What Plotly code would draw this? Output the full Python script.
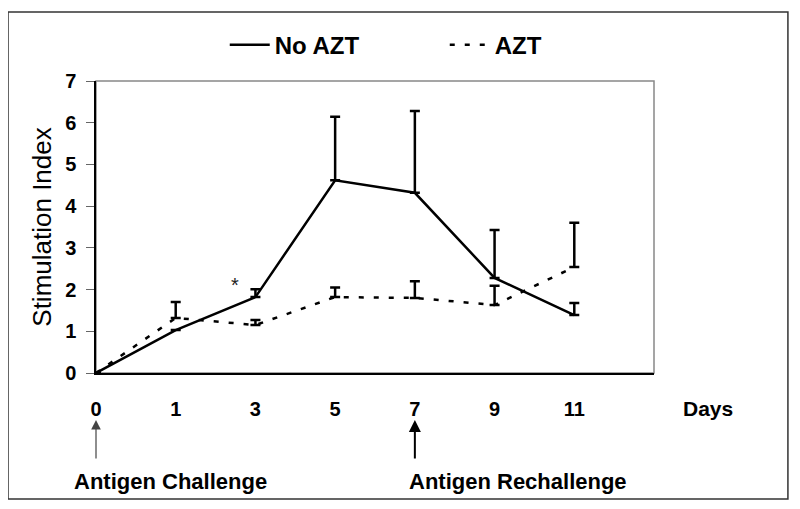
import plotly.graph_objects as go

days = ["0", "1", "3", "5", "7", "9", "11"]
no_azt = [0, 1.03, 1.82, 4.62, 4.32, 2.28, 1.39]
no_azt_err = [0, 0, 0.19, 1.52, 1.96, 1.15, 0.29]
azt = [0, 1.32, 1.15, 1.82, 1.8, 1.63, 2.54]
azt_err = [0, 0.38, 0.12, 0.23, 0.4, 0.46, 1.06]

FONT = "Liberation Sans, Arial, sans-serif"

fig = go.Figure()
fig.add_trace(go.Scatter(
    x=days, y=no_azt, name="No AZT", mode="lines",
    line=dict(color="black", width=2.5),
    error_y=dict(type="data", array=no_azt_err, arrayminus=[0]*7, symmetric=False,
                 color="black", thickness=2.5, width=5),
))
fig.add_trace(go.Scatter(
    x=days, y=azt, name="AZT", mode="lines",
    line=dict(color="black", width=2.5, dash="5px,10px"),
    error_y=dict(type="data", array=azt_err, arrayminus=[0]*7, symmetric=False,
                 color="black", thickness=2.5, width=5),
))

# plot area box (gray) and outer frame
fig.add_shape(type="rect", xref="paper", yref="paper", x0=0, x1=1, y0=0, y1=1,
              line=dict(color="#888888", width=1.5), layer="below")
fig.add_shape(type="rect", xref="paper", yref="paper", x0=-0.1577, x1=1.240, y0=-0.4315, y1=1.236,
              line=dict(color="#333333", width=1.5))

i0 = days.index("0")
i7 = days.index("7")
anns = [
    dict(x=1.097, y=-0.123, xref="paper", yref="paper", text="<b>Days</b>", showarrow=False,
         xanchor="center", yanchor="middle",
         font=dict(size=21, family=FONT, color="black")),
    dict(x=1.74, y=2.12, xref="x", yref="y", text="*", showarrow=False,
         xanchor="center", yanchor="middle",
         font=dict(size=20, family=FONT, color="#222222")),
    dict(x=0.133, y=-0.37, xref="paper", yref="paper", text="<b>Antigen Challenge</b>", showarrow=False,
         xanchor="center", yanchor="middle",
         font=dict(size=22, family=FONT, color="black")),
    dict(x=0.756, y=-0.37, xref="paper", yref="paper", text="<b>Antigen Rechallenge</b>", showarrow=False,
         xanchor="center", yanchor="middle",
         font=dict(size=22, family=FONT, color="black")),
    dict(x=i0, y=-0.161, xref="x", yref="paper", text="", showarrow=True, ax=0, ay=40,
         arrowhead=2, arrowsize=1.6, arrowwidth=1.2, arrowcolor="#444444", standoff=0),
    dict(x=i7, y=-0.161, xref="x", yref="paper", text="", showarrow=True, ax=0, ay=40,
         arrowhead=2, arrowsize=1.2, arrowwidth=2, arrowcolor="black", standoff=0),
]

fig.update_layout(
    width=800, height=509,
    margin=dict(l=88, r=154, t=73, b=144),
    paper_bgcolor="white", plot_bgcolor="white",
    font=dict(family=FONT, color="black"),
    showlegend=True,
    legend=dict(orientation="h", x=0.625, y=1.123, xanchor="center", yanchor="middle",
                font=dict(size=24, family=FONT, weight="bold"), itemwidth=40,
                entrywidth=165, bgcolor="rgba(0,0,0,0)"),
    annotations=anns,
)
fig.update_xaxes(
    type="category", range=[0, 7], showgrid=False, zeroline=False,
    showline=True, linecolor="black", linewidth=1.5,
    ticks="", ticklabelstandoff=17,
    tickfont=dict(size=20, family=FONT, weight="bold", color="black"),
)
fig.update_yaxes(
    range=[0, 7], dtick=1, showgrid=False, zeroline=False,
    showline=True, linecolor="black", linewidth=1.5,
    ticks="outside", ticklen=8, tickcolor="#666666", ticklabelstandoff=6,
    tickfont=dict(size=20, family=FONT, weight="bold", color="black"),
    title=dict(text="Stimulation Index", font=dict(size=26, family=FONT, color="black"), standoff=6),
)

fig.write_html("out.html")
